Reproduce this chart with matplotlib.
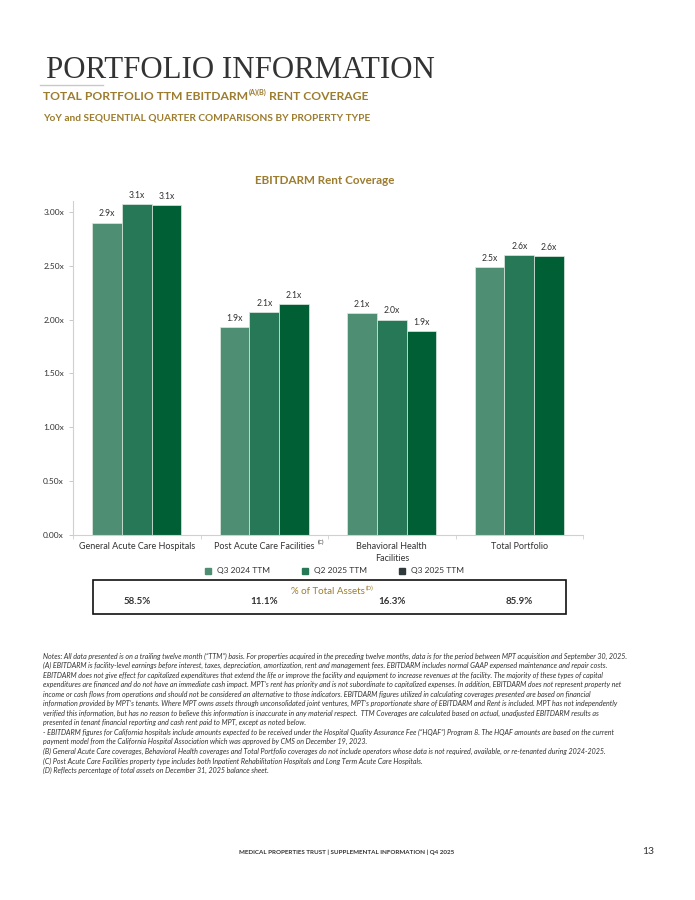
import matplotlib
matplotlib.use("Agg")
import matplotlib.pyplot as plt
from matplotlib.patches import Rectangle
from matplotlib.lines import Line2D
import numpy as np

# EBITDARM rent coverage by property type
categories = ["General Acute Care Hospitals", "Post Acute Care Facilities",
              "Behavioral Health\nFacilities", "Total Portfolio"]
series_names = ["Q3 2024 TTM", "Q2 2025 TTM", "Q3 2025 TTM"]
q3_2024 = [2.90, 1.93, 2.06, 2.49]
q2_2025 = [3.07, 2.07, 2.00, 2.60]
q3_2025 = [3.06, 2.145, 1.89, 2.59]
pct_assets = ["58.5%", "11.1%", "16.3%", "85.9%"]
yticks = [0.0, 0.5, 1.0, 1.5, 2.0, 2.5, 3.0]

notes = [
    "Notes: All data presented is on a trailing twelve month (\u201cTTM\u201d) basis. For properties acquired in the preceding twelve months, data is for the period between MPT acquisition and September 30, 2025.",
    "(A) EBITDARM is facility-level earnings before interest, taxes, depreciation, amortization, rent and management fees. EBITDARM includes normal GAAP expensed maintenance and repair costs.",
    "EBITDARM does not give effect for capitalized expenditures that extend the life or improve the facility and equipment to increase revenues at the facility. The majority of these types of capital",
    "expenditures are financed and do not have an immediate cash impact. MPT\u2019s rent has priority and is not subordinate to capitalized expenses. In addition, EBITDARM does not represent property net",
    "income or cash flows from operations and should not be considered an alternative to those indicators. EBITDARM figures utilized in calculating coverages presented are based on financial",
    "information provided by MPT\u2019s tenants. Where MPT owns assets through unconsolidated joint ventures, MPT\u2019s proportionate share of EBITDARM and Rent is included. MPT has not independently",
    "verified this information, but has no reason to believe this information is inaccurate in any material respect.  TTM Coverages are calculated based on actual, unadjusted EBITDARM results as",
    "presented in tenant financial reporting and cash rent paid to MPT, except as noted below.",
    "- EBITDARM figures for California hospitals include amounts expected to be received under the Hospital Quality Assurance Fee (\u201cHQAF\u201d) Program 8. The HQAF amounts are based on the current",
    "payment model from the California Hospital Association which was approved by CMS on December 19, 2023.",
    "(B) General Acute Care coverages, Behavioral Health coverages and Total Portfolio coverages do not include operators whose data is not required, available, or re-tenanted during 2024-2025.",
    "(C) Post Acute Care Facilities property type includes both Inpatient Rehabilitation Hospitals and Long Term Acute Care Hospitals.",
    "(D) Reflects percentage of total assets on December 31, 2025 balance sheet.",
]

plt.rcParams['font.family'] = ['Lato', 'DejaVu Sans']
GOLD = "#9C7C2E"
TXT = "#333333"
colors = ["#4E8E72", "#267857", "#005F35"]
legend_colors = ["#4E8E72", "#267857", "#2F3A3C"]

W, H = 695, 900
fig = plt.figure(figsize=(6.95, 9.0), dpi=100)

def fx(px):
    return px / W

def fy(py):
    return 1 - py / H

# header
fig.text(fx(46), fy(70), "PORTFOLIO INFORMATION", family="Liberation Serif",
         fontsize=22.2, color="#333333", va="center", ha="left")
fig.add_artist(Line2D([fx(40), fx(103)], [fy(85), fy(85)], color="#c8c8c8", lw=1))

renderer = fig.canvas.get_renderer()
t1 = fig.text(fx(43), fy(97), "TOTAL PORTFOLIO TTM EBITDARM", fontsize=8.7,
              fontweight="bold", color=GOLD, va="center", ha="left")
bb = t1.get_window_extent(renderer)
t2 = fig.text(bb.x1 / W + 0.001, fy(92), "(A)(B)", fontsize=5.2,
              fontweight="bold", color=GOLD, va="center", ha="left")
bb2 = t2.get_window_extent(renderer)
fig.text(bb2.x1 / W + 0.004, fy(97), "RENT COVERAGE", fontsize=8.7,
         fontweight="bold", color=GOLD, va="center", ha="left")
fig.text(fx(43), fy(118), "YoY and SEQUENTIAL QUARTER COMPARISONS BY PROPERTY TYPE",
         fontsize=7.3, fontweight="bold", color=GOLD, va="center", ha="left")

# chart
ax = fig.add_axes([fx(73), fy(535), fx(583) - fx(73), fy(201) - fy(535)])
x = np.arange(len(categories))
bw = 0.232
for i, (vals, c) in enumerate(zip([q3_2024, q2_2025, q3_2025], colors)):
    pos = x + (i - 1) * bw
    ax.bar(pos, vals, width=bw, color=c, edgecolor="#dfeae3", linewidth=0.5)
    for p, v in zip(pos, vals):
        ax.annotate(f"{v:.1f}x", (p, v), xytext=(0, 3), textcoords="offset points",
                    ha="center", va="bottom", fontsize=6.2, color=TXT)

ax.set_xlim(-0.5, len(categories) - 0.5)
ax.set_ylim(0, 3.1)
ax.set_yticks(yticks)
ax.set_yticklabels([f"{t:.2f}x" for t in yticks])
ax.set_xticks(x)
ax.set_xticklabels(categories, linespacing=1.5)
ax.set_xticks(np.arange(len(categories) + 1) - 0.5, minor=True)
ax.tick_params(axis="y", labelsize=6, colors="#bfbfbf", labelcolor=TXT, length=3, width=0.6)
ax.tick_params(axis="x", which="major", length=0, labelsize=6.5, labelcolor=TXT, pad=5)
ax.tick_params(axis="x", which="minor", length=3, color="#d0d0d0", width=0.6)
for s in ["top", "right"]:
    ax.spines[s].set_visible(False)
for s in ["left", "bottom"]:
    ax.spines[s].set_color("#d0d0d0")
    ax.spines[s].set_linewidth(0.8)

# superscript on Post Acute label
lbl = ax.get_xticklabels()[1]
fig.canvas.draw()
lb = lbl.get_window_extent(renderer)
fig.text(lb.x1 / W + 0.004, lb.y1 / H - 0.001, "(C)", fontsize=3.8, color=TXT,
         ha="left", va="center")

fig.text(fx(325), fy(180), "EBITDARM Rent Coverage", fontsize=8.4, fontweight="bold",
         color=GOLD, ha="center", va="center")

# legend
handles = [Line2D([], [], marker="s", linestyle="", markersize=4.5, color=c) for c in legend_colors]
fig.legend(handles, series_names, loc="center", bbox_to_anchor=(fx(332), fy(571)),
           ncol=3, frameon=False, fontsize=6, handletextpad=0.1, columnspacing=3.2,
           labelcolor=TXT)

# % of total assets box
fig.add_artist(Rectangle((fx(93), fy(614)), fx(566) - fx(93), fy(580) - fy(614),
                         fill=False, edgecolor="#111111", linewidth=1.2,
                         transform=fig.transFigure))
ta = fig.text(fx(291), fy(591), "% of Total Assets", fontsize=7, color=GOLD,
              ha="left", va="center")
bb3 = ta.get_window_extent(renderer)
fig.text(bb3.x1 / W + 0.001, fy(588), "(D)", fontsize=4.3, color=GOLD, ha="left", va="center")
for xc, p in zip(x, pct_assets):
    xd = ax.transData.transform((xc, 0))[0] / W
    fig.text(xd, fy(601), p, fontsize=7, fontweight="bold", color=TXT, ha="center", va="center")

# notes
for k, line in enumerate(notes):
    fig.text(fx(43), fy(656 + k * 9.55), line, fontsize=5.12, style="italic",
             color=TXT, ha="left", va="center")

# footer
fig.text(fx(347), fy(852), "MEDICAL PROPERTIES TRUST | SUPPLEMENTAL INFORMATION | Q4 2025",
         fontsize=4.5, fontweight="bold", color=TXT, ha="center", va="center")
fig.text(fx(648), fy(851), "13", fontsize=7.5, color=TXT, ha="center", va="center")

fig.savefig("out.png", dpi=100)
